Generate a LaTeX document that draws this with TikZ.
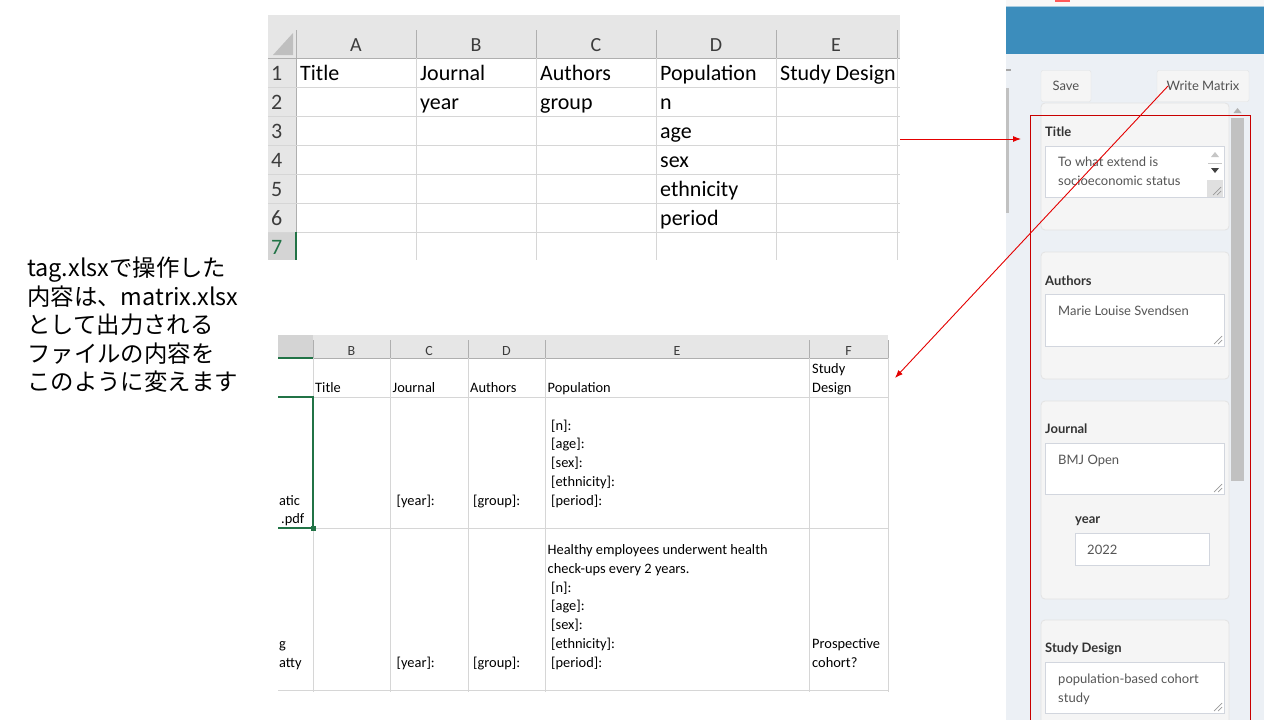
\documentclass[tikz,border=0pt]{standalone}
\usepackage{fontspec}
\setmainfont{Carlito}
\newfontfamily\webfont{Lato}
\newfontfamily\jpfont{Noto Sans CJK JP}
\usetikzlibrary{arrows.meta}

\definecolor{xlhead}{RGB}{230,230,230}
\definecolor{xlsel}{RGB}{212,212,212}
\definecolor{xlgrid}{RGB}{214,214,214}
\definecolor{xlline}{RGB}{175,175,175}
\definecolor{xlgreen}{RGB}{33,115,70}
\definecolor{xltext}{RGB}{60,60,60}
\definecolor{webbg}{RGB}{236,240,245}
\definecolor{webblue}{RGB}{60,141,188}
\definecolor{webwell}{RGB}{245,245,245}
\definecolor{webwellline}{RGB}{227,227,227}
\definecolor{webinput}{RGB}{210,214,222}
\definecolor{webtext}{RGB}{85,85,85}
\definecolor{labelgray}{RGB}{51,51,51}
\definecolor{webthumb}{RGB}{193,193,193}
\definecolor{arrowred}{RGB}{228,0,0}
\definecolor{framered}{RGB}{200,0,0}

\tikzset{
  xlcell/.style={anchor=base west, inner sep=0pt, font=\fontsize{22}{26}\selectfont},
  xlhdr/.style={anchor=base, inner sep=0pt, text=xltext, font=\fontsize{20}{24}\selectfont},
  xlrow/.style={anchor=base west, inner sep=0pt, text=xltext, font=\fontsize{22}{26}\selectfont},
  mxcell/.style={anchor=base west, inner sep=0pt, font=\fontsize{14.4}{17}\selectfont},
  mxhdr/.style={anchor=base, inner sep=0pt, text=xltext, font=\fontsize{14}{17}\selectfont},
  gridline/.style={draw=xlgrid, line width=1pt},
  hdrline/.style={draw=xlline, line width=1pt},
  webbtn/.style={draw=webwellline, fill=webwell, rounded corners=2pt, text=labelgray!85, font=\webfont\fontsize{13}{16}\selectfont, inner sep=0pt},
  well/.style={draw=webwellline, fill=webwell, rounded corners=4pt, line width=0.8pt},
  inbox/.style={draw=webinput, fill=white, line width=0.8pt},
  grip/.style={draw=gray!80, line width=0.7pt},
  webtitle/.style={anchor=base west, inner sep=0pt, text=labelgray, font=\webfont\bfseries\fontsize{13}{16}\selectfont},
  webentry/.style={anchor=base west, inner sep=0pt, text=webtext, font=\webfont\fontsize{13}{16}\selectfont},
  jpline/.style={anchor=base west, inner sep=0pt, font=\jpfont\fontsize{23.4}{28}\selectfont},
  redarrow/.style={draw=arrowred, line width=0.9pt, -{Latex[length=8pt,width=6pt]}}
}

\begin{document}
\begin{tikzpicture}[x=1pt,y=-1pt]
\clip (0,0) rectangle (1280,720);
\useasboundingbox (0,0) rectangle (1280,720);
\fill[white] (0,0) rectangle (1280,720);

% tag.xlsx sheet
\fill[xlhead] (268,15) rectangle (900,58);
\fill[xlhead] (268,58) rectangle (296,260);
\fill[xlsel] (268,232) rectangle (296,260);
\fill[xlline!80] (273,55) -- (293,55) -- (293,33) -- cycle;
\draw[hdrline] (296,30) -- (296,260);
\draw[hdrline] (416,30) -- (416,58);
\draw[hdrline] (536,30) -- (536,58);
\draw[hdrline] (656,30) -- (656,58);
\draw[hdrline] (776,30) -- (776,58);
\draw[hdrline] (897,30) -- (897,58);
\draw[hdrline] (268,58) -- (900,58);
\draw[gridline] (416,58) -- (416,260);
\draw[gridline] (536,58) -- (536,260);
\draw[gridline] (656,58) -- (656,260);
\draw[gridline] (776,58) -- (776,260);
\draw[gridline] (897,58) -- (897,260);
\draw[gridline] (268,87) -- (900,87);
\draw[gridline] (268,116) -- (900,116);
\draw[gridline] (268,145) -- (900,145);
\draw[gridline] (268,174) -- (900,174);
\draw[gridline] (268,203) -- (900,203);
\draw[gridline] (268,232) -- (900,232);
\draw[draw=xlgreen, line width=2pt] (296,232) -- (296,260);
\node[xlhdr] (colA) at (356,51) {A};
\node[xlhdr] (colB) at (476,51) {B};
\node[xlhdr] (colC) at (596,51) {C};
\node[xlhdr] (colD) at (716,51) {D};
\node[xlhdr] (colE) at (836,51) {E};
\node[xlrow] (row1) at (271,80) {1};
\node[xlrow] (row2) at (271,109) {2};
\node[xlrow] (row3) at (271,138) {3};
\node[xlrow] (row4) at (271,167) {4};
\node[xlrow] (row5) at (271,196) {5};
\node[xlrow] (row6) at (271,225) {6};
\node[xlrow, text=xlgreen] (row7) at (271,254) {7};
\node[xlcell] (tTitle) at (300,80) {Title};
\node[xlcell] (tJournal) at (420,80) {Journal};
\node[xlcell] (tAuthors) at (540,80) {Authors};
\node[xlcell] (tPop) at (660,80) {Population};
\node[xlcell] (tDesign) at (780,80) {Study Design};
\node[xlcell] (tYear) at (420,109) {year};
\node[xlcell] (tGroup) at (540,109) {group};
\node[xlcell] (tN) at (660,109) {n};
\node[xlcell] (tAge) at (660,138) {age};
\node[xlcell] (tSex) at (660,167) {sex};
\node[xlcell] (tEth) at (660,196) {ethnicity};
\node[xlcell] (tPeriod) at (660,225) {period};

% matrix.xlsx sheet
\fill[xlhead] (278,335) rectangle (888,358);
\fill[xlsel] (278,335) rectangle (313,358);
\draw[hdrline] (313,340) -- (313,358);
\draw[hdrline] (390,340) -- (390,358);
\draw[hdrline] (468,340) -- (468,358);
\draw[hdrline] (545,340) -- (545,358);
\draw[hdrline] (809,340) -- (809,358);
\draw[hdrline] (888,340) -- (888,358);
\draw[hdrline] (278,358) -- (888,358);
\draw[draw=xlgreen, line width=2pt] (278,358) -- (313,358);
\draw[gridline] (313,358) -- (313,692);
\draw[gridline] (390,358) -- (390,692);
\draw[gridline] (468,358) -- (468,692);
\draw[gridline] (545,358) -- (545,692);
\draw[gridline] (809,358) -- (809,692);
\draw[gridline] (888,358) -- (888,692);
\draw[gridline] (278,397) -- (888,397);
\draw[gridline] (278,528) -- (888,528);
\draw[gridline] (278,690) -- (888,690);
\draw[draw=xlgreen, line width=1.6pt] (278,397) -- (313,397) -- (313,528) -- (278,528);
\fill[xlgreen] (311,526) rectangle (316,531);
\node[mxhdr] (mcolB) at (351.5,355) {B};
\node[mxhdr] (mcolC) at (429,355) {C};
\node[mxhdr] (mcolD) at (506.5,355) {D};
\node[mxhdr] (mcolE) at (677,355) {E};
\node[mxhdr] (mcolF) at (848.5,355) {F};
\node[mxcell] (mTitle) at (315,392.5) {Title};
\node[mxcell] (mJournal) at (392.5,392.5) {Journal};
\node[mxcell] (mAuthors) at (470,392.5) {Authors};
\node[mxcell] (mPop) at (547.5,392.5) {Population};
\node[mxcell] (mStudy) at (812,373.5) {Study};
\node[mxcell] (mDesign) at (812,392.5) {Design};
% row 2
\node[mxcell] (aFile) at (279,505) {atic};
\node[mxcell] (aPdf) at (281,523) {.pdf};
\node[mxcell] (aYear) at (396.5,505) {[year]:};
\node[mxcell] (aGroup) at (473,505) {[group]:};
\node[mxcell] (aN) at (551,430) {[n]:};
\node[mxcell] (aAge) at (551,448.5) {[age]:};
\node[mxcell] (aSex) at (551,467.5) {[sex]:};
\node[mxcell] (aEth) at (551,486.5) {[ethnicity]:};
\node[mxcell] (aPeriod) at (551,505) {[period]:};
% row 3
\node[mxcell] (bFile) at (279,648) {g};
\node[mxcell] (bFileb) at (279,667) {atty};
\node[mxcell] (bYear) at (396.5,667) {[year]:};
\node[mxcell] (bGroup) at (473,667) {[group]:};
\node[mxcell] (bNote) at (547.5,554) {Healthy employees underwent health};
\node[mxcell] (bNoteb) at (547.5,573) {check-ups every 2 years.};
\node[mxcell] (bN) at (551,592) {[n]:};
\node[mxcell] (bAge) at (551,610.5) {[age]:};
\node[mxcell] (bSex) at (551,629.5) {[sex]:};
\node[mxcell] (bEth) at (551,648) {[ethnicity]:};
\node[mxcell] (bPeriod) at (551,667) {[period]:};
\node[mxcell] (bDesign) at (812,648) {Prospective};
\node[mxcell] (bDesignb) at (812,667) {cohort?};

% note
\node[jpline] (note1) at (27,276.5) {tag.xlsxで操作した};
\node[jpline] (note2) at (27,305) {内容は、matrix.xlsx};
\node[jpline] (note3) at (27,333.5) {として出力される};
\node[jpline] (note4) at (27,362) {ファイルの内容を};
\node[jpline] (note5) at (27,390.5) {このように変えます};

% app panel
\fill[black!3] (1006,0) rectangle (1264,6);
\fill[red!65] (1055,0) rectangle (1070,2);
\fill[webblue] (1006,6) rectangle (1264,54);
\draw[webblue!45, line width=1pt] (1006,6.5) -- (1264,6.5);
\fill[webbg] (1006,54) rectangle (1264,720);
\fill[webthumb] (1006,88) rectangle (1009,213);
\fill[black!35] (1006,69) rectangle (1011,70.5);
\node[webbtn, minimum width=50pt, minimum height=31pt] (saveBtn) at (1066,86) {Save};
\node[webbtn, minimum width=92pt, minimum height=31pt] (writeBtn) at (1203,86) {Write Matrix};
% scroll area
\fill[webthumb] (1231,118) rectangle (1244,481);
\fill[gray!60] (1233.5,113) -- (1241.5,113) -- (1237.5,108) -- cycle;
\draw[well] (1041,103) rectangle (1229,230);
\draw[well] (1041,252) rectangle (1229,379);
\draw[well] (1041,401) rectangle (1229,599);
\draw[well] (1041,620) rectangle (1229,745);
% Title
\node[webtitle] (fTitle) at (1045,136) {Title};
\draw[inbox] (1045,146) rectangle (1224,197);
\node[webentry] (fTitleA) at (1058,166.5) {To what extend is};
\node[webentry] (fTitleB) at (1058,185.5) {socioeconomic status};
\fill[gray!45] (1211,157) -- (1219,157) -- (1215,152) -- cycle;
\draw[gray!45, line width=1pt] (1208,163) -- (1222,163);
\fill[black!75] (1211,168) -- (1219,168) -- (1215,173) -- cycle;
\fill[black!12] (1207,180) rectangle (1223,196.5);
\draw[grip] (1213,195) -- (1221,187) (1217,195) -- (1221,191);
% Authors
\node[webtitle] (fAuthors) at (1045,285) {Authors};
\draw[inbox] (1045,294) rectangle (1224,346);
\node[webentry] (fAuthorsA) at (1058,315) {Marie Louise Svendsen};
\draw[grip] (1214,344) -- (1222,336) (1218,344) -- (1222,340);
% Journal
\node[webtitle] (fJournal) at (1045,433.5) {Journal};
\draw[inbox] (1045,443) rectangle (1224,494);
\node[webentry] (fJournalA) at (1058,464.5) {BMJ Open};
\draw[grip] (1214,492) -- (1222,484) (1218,492) -- (1222,488);
\node[webtitle] (fYear) at (1075,523.5) {year};
\draw[inbox] (1075,533) rectangle (1209,565);
\node[webentry] (fYearA) at (1087,554.5) {2022};
% Study Design
\node[webtitle] (fDesign) at (1045,652.5) {Study Design};
\draw[inbox] (1045,662) rectangle (1224,713);
\node[webentry] (fDesignA) at (1058,683) {population-based cohort};
\node[webentry] (fDesignB) at (1058,702) {study};
\draw[grip] (1214,711) -- (1222,703) (1218,711) -- (1222,707);
% red frame
\draw[draw=framered, line width=1pt] (1030,115) rectangle (1250,730);

% arrows
\coordinate (tagE) at (900,139);
\coordinate (formW) at (1021,139);
\coordinate (writeTip) at (1168,86);
\coordinate (matrixNE) at (895,378);
\draw[redarrow] (tagE) -- (formW);
\draw[redarrow] (writeTip) -- (matrixNE);
\end{tikzpicture}
\end{document}
